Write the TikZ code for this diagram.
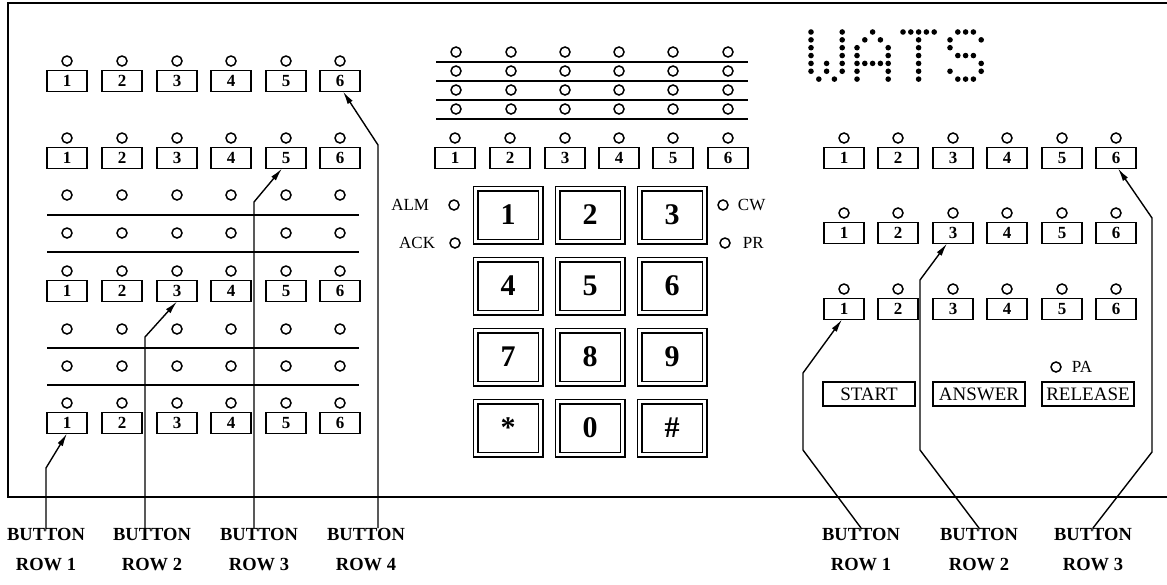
\documentclass[tikz,border=0pt]{standalone}
\usepackage{fontspec}
\setmainfont{Liberation Serif}
\usetikzlibrary{arrows.meta}
\usetikzlibrary{calc}
\usetikzlibrary{positioning}

\begin{document}
\begin{tikzpicture}[
  x=1pt, y=-1pt,
     btn/.style = {draw, line width=1.6pt, minimum width=40pt, minimum height=21pt,
                   inner sep=0pt, outer sep=0pt, font=\fontsize{17}{17}\selectfont\bfseries},
     led/.style = {draw, circle, line width=1.5pt, minimum size=10pt, inner sep=0pt},
     key/.style = {draw, double, line width=1.3pt, double distance=3.4pt,
                   minimum width=65pt, minimum height=53pt, inner sep=0pt,
                   font=\fontsize{30}{30}\selectfont\bfseries},
    wbtn/.style = {draw, line width=1.6pt, minimum width=92pt, minimum height=24pt,
                   inner sep=0pt, font=\fontsize{19}{19}\selectfont},
     lbl/.style = {inner sep=0pt, font=\fontsize{17}{17}\selectfont},
   rowlb/.style = {anchor=north, align=center, inner sep=0pt,
                   font=\fontsize{18.5}{30}\selectfont\bfseries},
     arr/.style = {line width=1.4pt, -{Latex[length=13pt,width=6pt]}},
    sep/.style  = {line width=1.7pt}
                   ]
% frame
\useasboundingbox (0,0) rectangle (1167,584);
\draw[line width=1.9pt] (1167,3) -- (8,3) -- (8,497) -- (1167,497);

% left panel: button rows with lamps
\foreach \r/\y in {1/423, 2/291, 3/158, 4/81}
  \foreach \x [count=\i] in {67,122,177,231,286,340}
  {
    \node[btn] (L\r-\i) at (\x,\y) {\i};
    \node[led] (L\r-\i-led) at (\x,\y-20) {};
  }
\foreach \y in {195,233,329,366}
  \foreach \x [count=\i] in {67,122,177,231,286,340}
    \node[led] (Lp-\y-\i) at (\x,\y) {};
\foreach \y in {215,252,348,385}
  \draw[sep] (47,\y) -- (359,\y);

% centre panel: lamp field and buttons
\foreach \y in {52,71,90,109}
  \foreach \x [count=\i] in {456,511,565,619,673,728}
    \node[led] (Cp-\y-\i) at (\x,\y) {};
\foreach \y in {62,81,100,119}
  \draw[sep] (436,\y) -- (748,\y);
\foreach \x [count=\i] in {455,510,565,619,673,728}
{
  \node[btn] (C-\i) at (\x,158) {\i};
  \node[led] (C-\i-led) at (\x,138) {};
}

% keypad
\foreach \k [count=\n from 0] in {1,2,3,4,5,6,7,8,9,*,0,\#}
{
  \pgfmathtruncatemacro\kc{mod(\n,3)}
  \pgfmathtruncatemacro\kr{\n/3}
  \node[key] (key-\n) at (508+\kc*82, 215+\kr*71) {\k};
}

% status lamps
\node[led] (alm) at (454,205) {};
\node[lbl, left=19pt of alm] (alm-t) {ALM};
\node[led] (ack) at (455,243) {};
\node[lbl, left=14pt of ack] (ack-t) {ACK};
\node[led] (cw) at (723,205) {};
\node[lbl, right=9pt of cw] (cw-t) {CW};
\node[led] (pr) at (725,243) {};
\node[lbl, right=12pt of pr] (pr-t) {PR};

% WATS dot display
\foreach \ox/\pts in {
  811/{0/0,0/1,0/2,0/3,0/4,0/5,4/0,4/1,4/2,4/3,4/4,4/5,2/4,2/5,1/6,3/6},
  857/{2/0,1/1,3/1,0/2,0/3,0/4,0/5,0/6,4/2,4/3,4/4,4/5,4/6,1/4,2/4,3/4},
  903/{0/0,1/0,2/0,3/0,4/0,2/1,2/2,2/3,2/4,2/5,2/6},
  950/{1/0,2/0,3/0,0/1,4/1,0/2,1/3,2/3,3/3,4/4,0/5,4/5,1/6,2/6,3/6}}
  \foreach \c/\r in \pts
    \fill (\ox+\c*7.8, 32+\r*7.85) circle (2.8pt);

% right panel
\foreach \r/\y in {1/309, 2/233, 3/158}
  \foreach \x [count=\i] in {844,898,953,1007,1062,1116}
  {
    \node[btn] (R\r-\i) at (\x,\y) {\i};
    \node[led] (R\r-\i-led) at (\x,\y-20) {};
  }
\node[led] (pa) at (1056,367) {};
\node[lbl, right=10pt of pa] (pa-t) {PA};
\node[wbtn] (start) at (869,394) {START};
\node[wbtn] (answer) at (979,394) {ANSWER};
\node[wbtn] (release) at (1088,394) {RELEASE};

% row labels
\foreach \x [count=\i] in {46,152,259,366}
  \node[rowlb] (lrow\i) at (\x,528) {BUTTON\\ROW \i};
\foreach \x [count=\i] in {861,979,1093}
  \node[rowlb] (rrow\i) at (\x,528) {BUTTON\\ROW \i};

% pointers
\draw[arr] (lrow1.north) -- ++(0,-60) -- (L1-1.south);
\draw[arr] ([xshift=-7pt]lrow2.north) -- ++(0,-191) -- (L2-3.south);
\draw[arr] ([xshift=-5pt]lrow3.north) -- ++(0,-326) -- ([xshift=-4pt]L3-5.south);
\draw[arr] ([xshift=12pt]lrow4.north) -- ++(0,-383) -- ([xshift=3pt]L4-6.south);
\draw[arr] (rrow1.north) -- ++(-58,-78) -- ++(0,-77) -- ([xshift=-2pt]R1-1.south);
\draw[arr] (rrow2.north) -- ++(-59,-78) -- ++(0,-170) -- ([xshift=-6pt]R2-3.south);
\draw[arr] (rrow3.north) -- ++(59,-76) -- ++(0,-234) -- ([xshift=2pt]R3-6.south);
\end{tikzpicture}
\end{document}
